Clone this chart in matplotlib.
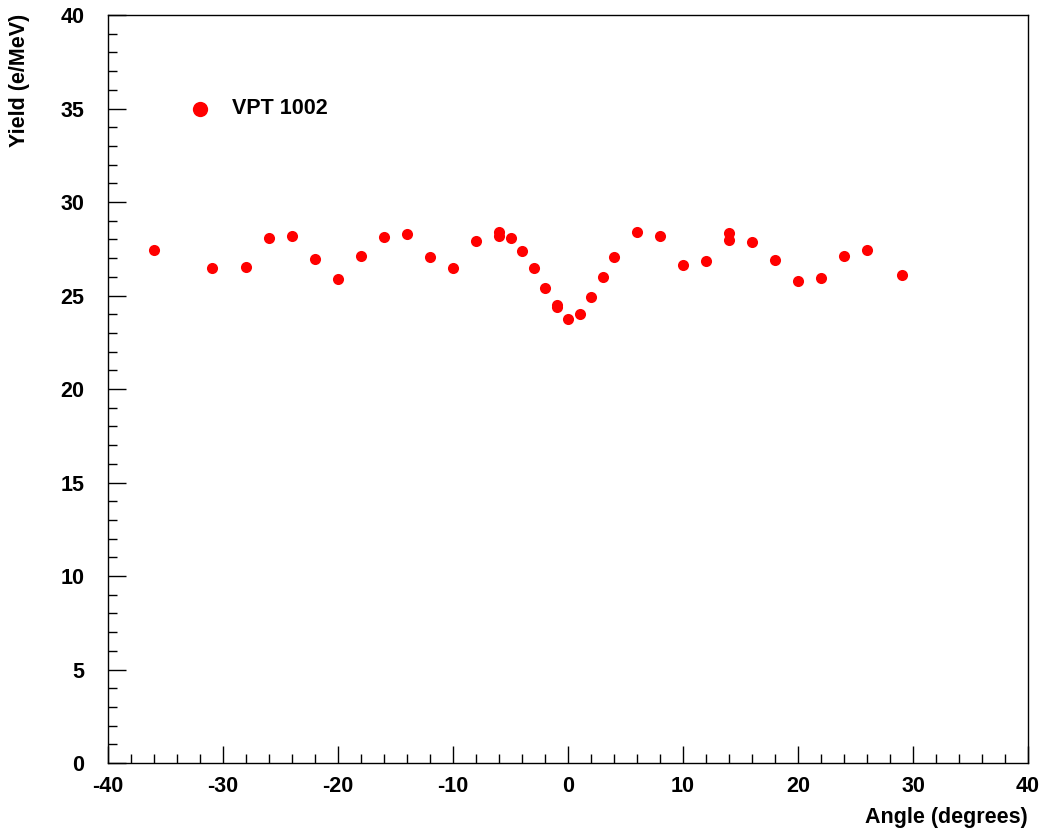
import matplotlib
matplotlib.use('Agg')
import matplotlib.pyplot as plt
from matplotlib.ticker import MultipleLocator

# VPT 1002 yield vs angle
angle = [-36, -31, -28, -26, -24, -22, -20, -18, -16, -14, -12, -10, -8,
         -6, -6, -5, -4, -3, -2, -1, -1, 0, 1, 2, 3, 4, 6, 8, 10, 12,
         14, 14, 16, 18, 20, 22, 24, 26, 29]
yield_ = [27.43, 26.47, 26.52, 28.07, 28.18, 26.95, 25.88, 27.11, 28.13, 28.29,
          27.06, 26.47, 27.91, 28.40, 28.18, 28.07, 27.38, 26.47, 25.40, 24.49,
          24.39, 23.74, 24.01, 24.92, 25.99, 27.06, 28.40, 28.18, 26.63, 26.84,
          28.34, 27.97, 27.86, 26.90, 25.78, 25.94, 27.11, 27.43, 26.10]

plt.rcParams['font.family'] = 'Liberation Sans'
plt.rcParams['font.weight'] = 'bold'
plt.rcParams['axes.unicode_minus'] = False

fs = 15.5

fig = plt.figure(figsize=(10.44, 8.3), dpi=100)
ax = fig.add_axes([108/1044, 1-763/830, 920/1044, 748/830])

ax.plot(angle, yield_, 'o', color='#ff0000', markersize=8, markeredgewidth=0)
ax.plot([-32.0], [35.0], 'o', color='#ff0000', markersize=11, markeredgewidth=0)
ax.text(-29.2, 35.0, 'VPT 1002', fontsize=fs, fontweight='bold', va='center', ha='left')

ax.set_xlim(-40, 40)
ax.set_ylim(0, 40)
ax.xaxis.set_major_locator(MultipleLocator(10))
ax.xaxis.set_minor_locator(MultipleLocator(2))
ax.yaxis.set_major_locator(MultipleLocator(5))
ax.yaxis.set_minor_locator(MultipleLocator(1))
ax.tick_params(which='both', direction='in', top=False, right=False, width=1)
ax.tick_params(axis='x', which='major', length=12.5, pad=9, labelsize=fs)
ax.tick_params(axis='y', which='major', length=13, pad=17, labelsize=fs)
ax.tick_params(which='minor', length=6.5)
for s in ax.spines.values():
    s.set_linewidth(1.0)

fig.text(1028/1044, 1-817/830, 'Angle (degrees)', ha='right', va='center',
         fontsize=fs, fontweight='bold')
fig.text(20/1044, 1-14/830, 'Yield (e/MeV)', ha='center', va='top',
         rotation=90, fontsize=fs, fontweight='bold')

fig.savefig('out.png', dpi=100)
